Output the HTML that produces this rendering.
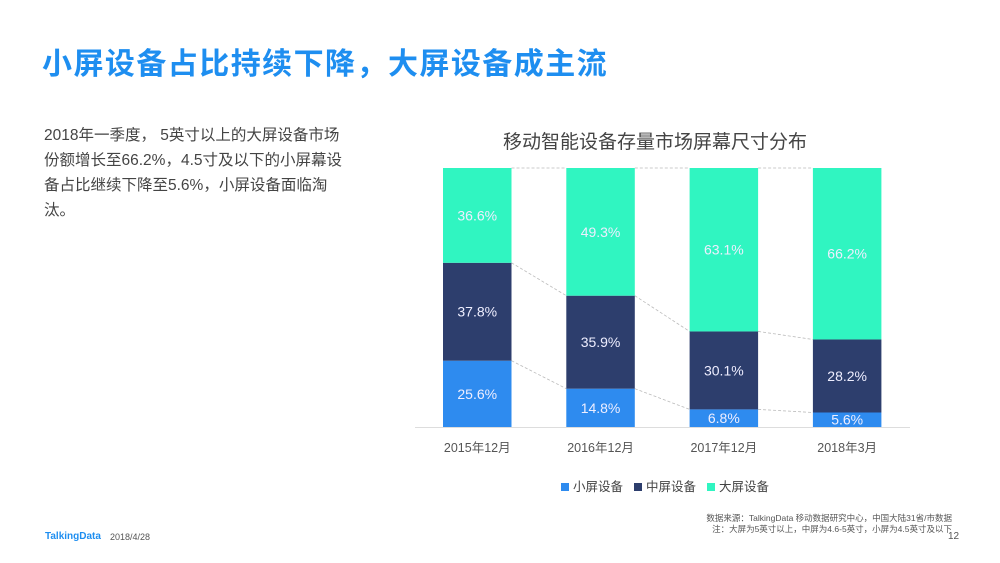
<!DOCTYPE html>
<html><head><meta charset="utf-8"><style>
body{margin:0;width:1000px;height:563px;background:#fff;font-family:"Liberation Sans","Noto Sans CJK SC",sans-serif;overflow:hidden;position:relative}
.abs{position:absolute}
</style></head><body>
<div class="abs" style="left:42px;top:39px;font-size:30px;font-weight:bold;color:#1e8ef0;letter-spacing:1.45px">小屏设备占比持续下降，大屏设备成主流</div>
<div class="abs" style="left:44px;top:123px;width:308px;font-size:15.5px;line-height:25px;color:#444">2018年一季度， 5英寸以上的大屏设备市场份额增长至66.2%，4.5寸及以下的小屏幕设备占比继续下降至5.6%，小屏设备面临淘汰。</div>
<div class="abs" style="left:500px;top:127px;width:310px;text-align:center;font-size:19px;color:#444">移动智能设备存量市场屏幕尺寸分布</div>
<svg class="abs" style="left:0;top:0" width="1000" height="563" id="chart"></svg>
<div class="abs" style="left:561px;top:476px;font-size:12.5px;color:#444;display:flex;gap:11px">
<span><span style="display:inline-block;width:8px;height:8px;background:#2e8bef;margin-right:4px"></span>小屏设备</span>
<span><span style="display:inline-block;width:8px;height:8px;background:#2d3e6d;margin-right:4px"></span>中屏设备</span>
<span><span style="display:inline-block;width:8px;height:8px;background:#30f5c1;margin-right:4px"></span>大屏设备</span>
</div>
<div class="abs" style="left:690px;top:513px;font-size:8.5px;line-height:11px;color:#555;text-align:right;width:262px">数据来源：TalkingData 移动数据研究中心，中国大陆31省/市数据<br>注：大屏为5英寸以上，中屏为4.6-5英寸，小屏为4.5英寸及以下</div>
<div class="abs" style="left:948px;top:531px;font-size:10px;color:#555">12</div>
<div class="abs" style="left:45px;top:531px;font-size:10px;font-weight:bold;color:#1e8ef0">TalkingData</div>
<div class="abs" style="left:110px;top:532px;font-size:9px;color:#555">2018/4/28</div>
<script>
const categories=["2015年12月","2016年12月","2017年12月","2018年3月"];
const smallVals=[25.6,14.8,6.8,5.6];
const mediumVals=[37.8,35.9,30.1,28.2];
const largeVals=[36.6,49.3,63.1,66.2];
const svg=document.getElementById('chart');
const NS='http://www.w3.org/2000/svg';
const y0=427,H=259,bw=68.5;
const y=v=>y0-v/100*H;
const xL=i=>443+i*123.3;
function mk(t,a){const e=document.createElementNS(NS,t);for(const k in a)e.setAttribute(k,a[k]);svg.appendChild(e);return e;}
const series=[[smallVals,'#2e8bef','small'],[mediumVals,'#2d3e6d','medium'],[largeVals,'#30f5c1','large']];
const bounds=categories.map((c,i)=>[smallVals[i],smallVals[i]+mediumVals[i],smallVals[i]+mediumVals[i]+largeVals[i]]);
for(let i=0;i<categories.length-1;i++){for(let k=0;k<3;k++){
const l=mk('line',{x1:xL(i)+bw,y1:y(bounds[i][k]),x2:xL(i+1),y2:y(bounds[i+1][k]),stroke:'#bbb','stroke-width':0.8,'stroke-dasharray':'3,2'});

}}
categories.forEach((c,i)=>{let base=0;
series.forEach(([vals,col,nm])=>{const v=vals[i];
const r=mk('rect',{x:xL(i),y:y(base+v),width:bw,height:y(base)-y(base+v),fill:col});


const t=mk('text',{x:xL(i)+bw/2,y:(y(base)+y(base+v))/2+5,'text-anchor':'middle','font-size':14,fill:'#eef','font-family':'Liberation Sans, sans-serif'});
t.textContent=v.toFixed(1)+'%';


base+=v;});
const xl=mk('text',{x:xL(i)+bw/2,y:452,'text-anchor':'middle','font-size':12.5,fill:'#555','font-family':'Liberation Sans, Noto Sans CJK SC, sans-serif'});
xl.textContent=c;


});
const ax=mk('line',{x1:415,y1:y0+0.5,x2:910,y2:y0+0.5,stroke:'#ddd','stroke-width':1});


</script>
</body></html>
